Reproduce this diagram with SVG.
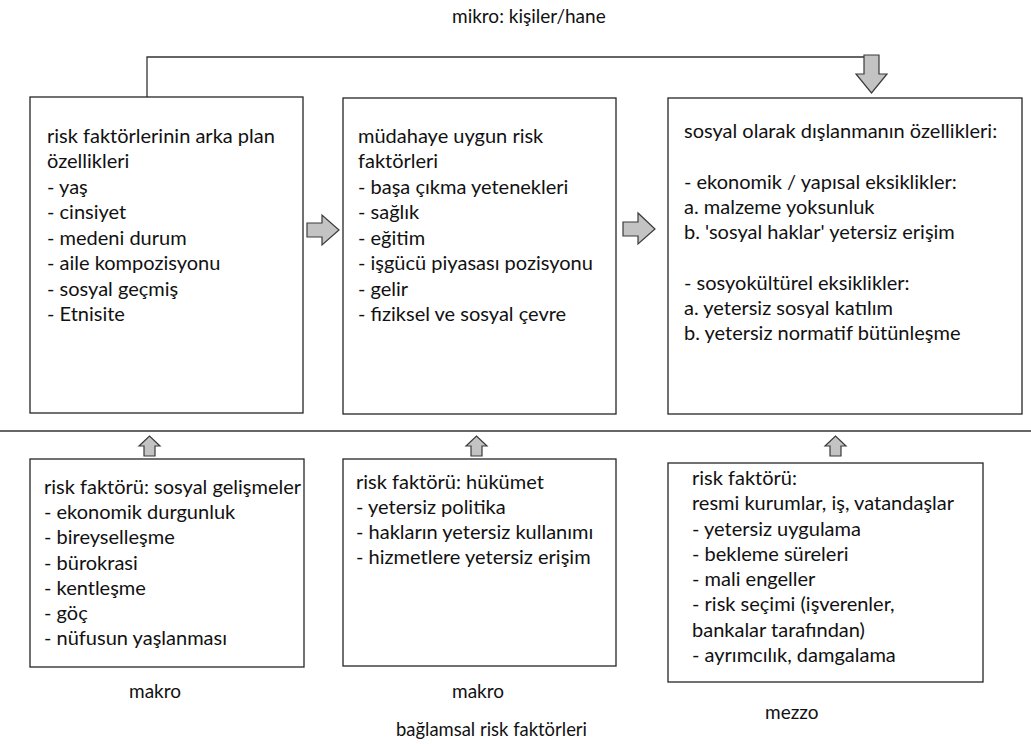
<svg xmlns="http://www.w3.org/2000/svg" width="1031" height="744" viewBox="0 0 1031 744">
<style>
.box{fill:#fff;stroke:#262626;stroke-width:1.3}
.t{font-family:Lato,"Liberation Sans",sans-serif;font-size:20px;fill:#111}
.s{font-family:Lato,"Liberation Sans",sans-serif;font-size:19px;fill:#111}
.arr{fill:#c3c3c3;stroke:#3a3a3a;stroke-width:1.2;stroke-linejoin:miter}
.ln{fill:none;stroke:#333;stroke-width:1.3}
</style>
<rect width="1031" height="744" fill="#fff"/>
<text class="s" x="452" y="23">mikro: kişiler/hane</text>
<g id="connectors">
<polyline class="ln" points="147,97 147,57 864,57"/>
<polygon class="arr" points="864,55 879,55 879,74 887,74 871.5,93 856,74 864,74"/>
<polygon class="arr" points="307,223 322,223 322,215 339,230 322,245 322,237 307,237"/>
<polygon class="arr" points="623,222 638,222 638,213 655,229 638,244 638,236 623,236"/>
<line class="ln" x1="0" y1="431" x2="1031" y2="431"/>
<polygon class="arr" points="144,456 144,446 139,446 149.5,436 160,446 155,446 155,456"/>
<polygon class="arr" points="471,456 471,446 466,446 476.5,436 487,446 482,446 482,456"/>
<polygon class="arr" points="830,456 830,446 825,446 835.5,436 846,446 841,446 841,456"/>
</g>
<g id="n1">
<rect class="box" x="30" y="97" width="273" height="316"/>
<text class="t" x="47" y="143">risk faktörlerinin arka plan</text>
<text class="t" x="47" y="168">özellikleri</text>
<text class="t" x="47" y="194">- yaş</text>
<text class="t" x="47" y="219">- cinsiyet</text>
<text class="t" x="47" y="245">- medeni durum</text>
<text class="t" x="47" y="270">- aile kompozisyonu</text>
<text class="t" x="47" y="296">- sosyal geçmiş</text>
<text class="t" x="47" y="321">- Etnisite</text>
</g>
<g id="n2">
<rect class="box" x="343" y="98" width="273" height="316"/>
<text class="t" x="358" y="143">müdahaye uygun risk</text>
<text class="t" x="358" y="168">faktörleri</text>
<text class="t" x="358" y="194">- başa çıkma yetenekleri</text>
<text class="t" x="358" y="219">- sağlık</text>
<text class="t" x="358" y="245">- eğitim</text>
<text class="t" x="358" y="270">- işgücü piyasası pozisyonu</text>
<text class="t" x="358" y="296">- gelir</text>
<text class="t" x="358" y="321">- fiziksel ve sosyal çevre</text>
</g>
<g id="n3">
<rect class="box" x="668" y="98" width="354" height="316"/>
<text class="t" x="684" y="138">sosyal olarak dışlanmanın özellikleri:</text>
<text class="t" x="684" y="189">- ekonomik / yapısal eksiklikler:</text>
<text class="t" x="684" y="214">a. malzeme yoksunluk</text>
<text class="t" x="684" y="239">b. 'sosyal haklar' yetersiz erişim</text>
<text class="t" x="684" y="290">- sosyokültürel eksiklikler:</text>
<text class="t" x="684" y="315">a. yetersiz sosyal katılım</text>
<text class="t" x="684" y="340">b. yetersiz normatif bütünleşme</text>
</g>
<g id="n4">
<rect class="box" x="30" y="459" width="274" height="208"/>
<text class="t" x="44" y="494" textLength="257" lengthAdjust="spacingAndGlyphs">risk faktörü: sosyal gelişmeler</text>
<text class="t" x="44" y="519">- ekonomik durgunluk</text>
<text class="t" x="44" y="544">- bireyselleşme</text>
<text class="t" x="44" y="570">- bürokrasi</text>
<text class="t" x="44" y="595">- kentleşme</text>
<text class="t" x="44" y="620">- göç</text>
<text class="t" x="44" y="645">- nüfusun yaşlanması</text>
</g>
<g id="n5">
<rect class="box" x="343" y="459" width="273" height="207"/>
<text class="t" x="356" y="489">risk faktörü: hükümet</text>
<text class="t" x="356" y="514">- yetersiz politika</text>
<text class="t" x="356" y="539">- hakların yetersiz kullanımı</text>
<text class="t" x="356" y="564">- hizmetlere yetersiz erişim</text>
</g>
<g id="n6">
<rect class="box" x="668" y="463" width="315" height="219"/>
<text class="t" x="692" y="485">risk faktörü:</text>
<text class="t" x="692" y="510">resmi kurumlar, iş, vatandaşlar</text>
<text class="t" x="692" y="536">- yetersiz uygulama</text>
<text class="t" x="692" y="561">- bekleme süreleri</text>
<text class="t" x="692" y="586">- mali engeller</text>
<text class="t" x="692" y="611">- risk seçimi (işverenler,</text>
<text class="t" x="692" y="637">bankalar tarafından)</text>
<text class="t" x="692" y="662">- ayrımcılık, damgalama</text>
</g>
<text class="s" x="129" y="698">makro</text>
<text class="s" x="452" y="698">makro</text>
<text class="s" x="765" y="719">mezzo</text>
<text class="s" x="396" y="736" textLength="191" lengthAdjust="spacingAndGlyphs">bağlamsal risk faktörleri</text>
</svg>
